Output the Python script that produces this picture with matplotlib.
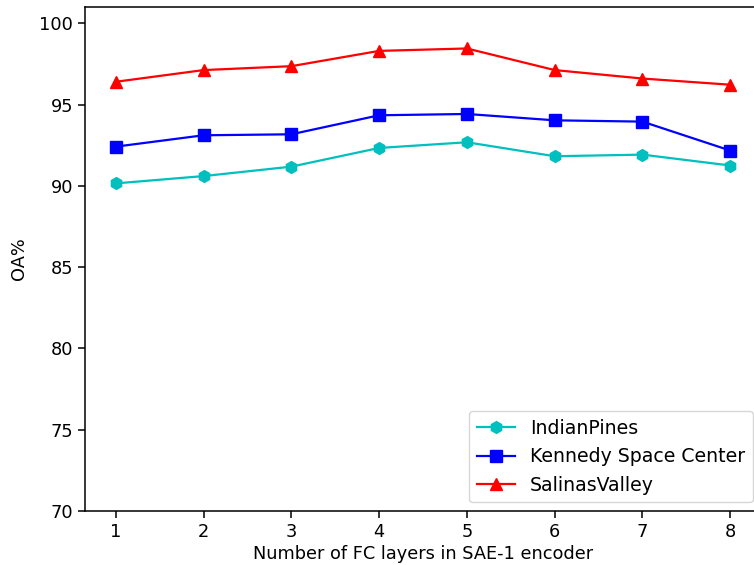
import numpy as np
import matplotlib.pyplot as plt

layers = [1, 2, 3, 4, 5, 6, 7, 8]
indian_pines = [90.15, 90.6, 91.18, 92.33, 92.68, 91.82, 91.92, 91.25]
kennedy = [92.41, 93.11, 93.17, 94.34, 94.42, 94.03, 93.95, 92.17]
salinas = [96.4, 97.12, 97.36, 98.3, 98.45, 97.12, 96.6, 96.22]

plt.rcParams['font.size'] = 12.8

fig = plt.figure(figsize=(7.54, 5.65), dpi=100)
ax = fig.add_axes([0.1127, 0.0956, 0.8966, 0.892])

ax.plot(layers, indian_pines, color='c', marker='h', lw=1.6, ms=8.5, label='IndianPines')
ax.plot(layers, kennedy, color='b', marker='s', lw=1.6, ms=8.5, label='Kennedy Space Center')
ax.plot(layers, salinas, color='r', marker='^', lw=1.6, ms=8.5, label='SalinasValley')

ax.set_ylim(70, 101)
ax.set_xlim(0.65, 8.35)
ax.set_yticks([70, 75, 80, 85, 90, 95, 100])
ax.set_xticks(layers)
ax.tick_params(length=5, width=1.1)
for s in ax.spines.values():
    s.set_linewidth(1.1)

ax.set_xlabel("Number of FC layers in SAE-1 encoder", labelpad=3)
ax.set_ylabel("OA%", labelpad=8)
ax.legend(loc='lower right', fontsize=13.6, borderaxespad=0.45)

fig.savefig("out.png", dpi=100)
plt.close(fig)
